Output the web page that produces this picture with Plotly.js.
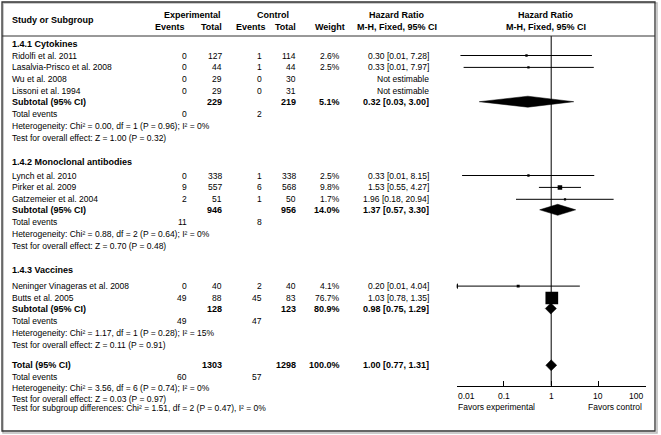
<!DOCTYPE html>
<html>
<head>
<meta charset="utf-8">
<script src="https://cdn.plot.ly/plotly-3.0.1.min.js"></script>
<style>html,body{margin:0;padding:0;background:#fff}#chart{width:661px;height:435px}</style>
</head>
<body>
<div id="chart"></div>
<script>
// ---------------- DATA ----------------
const groupNames = ["1.4.1 Cytokines", "1.4.2 Monoclonal antibodies", "1.4.3 Vaccines"];
const studies = ["Ridolfi et al. 2011", "Lasalvia-Prisco et al. 2008", "Wu et al. 2008", "Lissoni et al. 1994",
  "Lynch et al. 2010", "Pirker et al. 2009", "Gatzemeier et al. 2004",
  "Neninger Vinageras et al. 2008", "Butts et al. 2005"];
const studyGroup = [0, 0, 0, 0, 1, 1, 1, 2, 2];
const expEvents = [0, 0, 0, 0, 0, 9, 2, 0, 49];
const expTotal = [127, 44, 29, 29, 338, 557, 51, 40, 88];
const ctlEvents = [1, 1, 0, 0, 1, 6, 1, 2, 45];
const ctlTotal = [114, 44, 30, 31, 338, 568, 50, 40, 83];
const weight = [2.6, 2.5, null, null, 2.5, 9.8, 1.7, 4.1, 76.7];
const hr = [0.30, 0.33, null, null, 0.33, 1.53, 1.96, 0.20, 1.03];
const hrLow = [0.012, 0.014, null, null, 0.013, 0.55, 0.18, 0.0095, 0.78];
const hrHigh = [7.28, 7.97, null, null, 8.15, 4.27, 20.94, 4.04, 1.35];

const subExpTotal = [229, 946, 128];
const subCtlTotal = [219, 956, 123];
const subWeight = [5.1, 14.0, 80.9];
const subHr = [0.32, 1.37, 0.98];
const subLow = [0.03, 0.57, 0.75];
const subHigh = [3.00, 3.30, 1.29];
const subExpEvents = [0, 11, 49];
const subCtlEvents = [2, 8, 47];
const subChi2 = [0.00, 0.88, 1.17];
const subDf = [1, 2, 1];
const subHetP = [0.96, 0.64, 0.28];
const subI2 = [0, 0, 15];
const subZ = [1.00, 0.70, 0.11];
const subZP = [0.32, 0.48, 0.91];

const totExpTotal = 1303, totCtlTotal = 1298, totWeight = 100.0;
const totHr = 1.00, totLow = 0.77, totHigh = 1.31;
const totExpEvents = 60, totCtlEvents = 57;
const totChi2 = 3.56, totDf = 6, totHetP = 0.74, totI2 = 0;
const totZ = 0.03, totZP = 0.97;
const sgChi2 = 1.51, sgDf = 2, sgP = 0.47, sgI2 = 0;

const axisTickVals = [0.01, 0.1, 1, 10, 100];
const axisTickText = ["0.01", "0.1", "1", "10", "100"];
const favorsLeft = "Favors experimental", favorsRight = "Favors control";

// ---------------- LAYOUT (pixel geometry) ----------------
const W = 661, H = 435;
const FONT = "Arial, 'Liberation Sans', sans-serif";
const FS = 8.5, FSB = 9.0;
const plotX0 = 456.7, plotX1 = 645.7;     // 0.01 .. 100
const axisY = 385.5;
const headerLineY = 36;
const col = {label: 11, expEv: 188, expTot: 223, ctlEv: 263, ctlTot: 297, weight: 341, hrText: 430};

// build row list
const rows = [];
groupNames.forEach((g, gi) => {
  rows.push({kind: "group", gi});
  studies.forEach((s, i) => { if (studyGroup[i] === gi) rows.push({kind: "study", i}); });
  rows.push({kind: "subtotal", gi});
  rows.push({kind: "te", gi});
  rows.push({kind: "het", gi});
  rows.push({kind: "test", gi});
});
rows.push({kind: "total"}); rows.push({kind: "tte"}); rows.push({kind: "thet"}); rows.push({kind: "ttest"}); rows.push({kind: "tsub"});

const gapBefore = {group: 24, study: 11.9, subtotal: 10.5, te: 12.3, het: 12, test: 12, total: 20.5, tte: 11.5, thet: 11, ttest: 11, tsub: 9.5};
const firstStudyGap = [12, 13.5, 16];
let y = 43.5;
rows.forEach((r, k) => {
  if (k > 0) {
    let g = gapBefore[r.kind];
    if (r.kind === "study" && rows[k - 1].kind === "group") g = firstStudyGap[rows[k - 1].gi];
    y += g;
  }
  r.y = y;
});

const f2 = v => v.toFixed(2);
const ciText = (h, l, u) => f2(h) + " [" + f2(l) + ", " + f2(u) + "]";

const ann = [];
function txt(x, yy, t, anchor, bold) {
  ann.push({xref: "x", yref: "y", x: x, y: yy, text: bold ? "<b>" + t + "</b>" : t, showarrow: false,
    xanchor: anchor, yanchor: "middle", font: {family: FONT, size: bold ? FSB : FS, color: "#000"}, borderpad: 0});
}

// headers
txt(col.label, 20, "Study or Subgroup", "left", true);
txt(192, 14.5, "Experimental", "center", true);
txt(273, 14.5, "Control", "center", true);
txt(186, 26.5, "Events", "right", true);
txt(223, 26.5, "Total", "right", true);
txt(267, 26.5, "Events", "right", true);
txt(297, 26.5, "Total", "right", true);
txt(346, 26.5, "Weight", "right", true);
txt(397, 14.5, "Hazard Ratio", "center", true);
txt(397, 26.5, "M-H, Fixed, 95% CI", "center", true);
txt(546, 14.5, "Hazard Ratio", "center", true);
txt(546, 26.5, "M-H, Fixed, 95% CI", "center", true);

const traces = [];
const blk = "#000";

rows.forEach(r => {
  const yy = r.y;
  if (r.kind === "group") {
    txt(col.label, yy, groupNames[r.gi], "left", true);
  } else if (r.kind === "study") {
    const i = r.i;
    txt(col.label, yy, studies[i], "left", false);
    txt(col.expEv, yy, String(expEvents[i]), "right", false);
    txt(col.expTot, yy, String(expTotal[i]), "right", false);
    txt(col.ctlEv, yy, String(ctlEvents[i]), "right", false);
    txt(col.ctlTot, yy, String(ctlTotal[i]), "right", false);
    if (hr[i] === null) {
      txt(col.hrText, yy, "Not estimable", "right", false);
    } else {
      txt(col.weight, yy, weight[i].toFixed(1) + "%", "right", false);
      txt(col.hrText, yy, ciText(hr[i], hrLow[i], hrHigh[i]), "right", false);
      const lo = Math.max(hrLow[i], 0.01), hi = Math.min(hrHigh[i], 100);
      traces.push({type: "scatter", mode: "lines", xaxis: "x2", yaxis: "y", x: [lo, hi], y: [yy, yy],
        line: {color: blk, width: 1}, hoverinfo: "skip"});
      if (hrLow[i] < 0.01) {
        traces.push({type: "scatter", mode: "markers", xaxis: "x2", yaxis: "y", x: [0.01], y: [yy],
          marker: {symbol: "triangle-left", size: 5, color: blk}, hoverinfo: "skip"});
      }
      traces.push({type: "scatter", mode: "markers", xaxis: "x2", yaxis: "y", x: [hr[i]], y: [yy],
        marker: {symbol: "square", size: Math.max(2.2, 1.45 * Math.sqrt(weight[i])), color: blk, line: {width: 0}}, hoverinfo: "skip"});
    }
  } else if (r.kind === "subtotal") {
    const g = r.gi;
    txt(col.label, yy, "Subtotal (95% CI)", "left", true);
    txt(col.expTot, yy, String(subExpTotal[g]), "right", true);
    txt(col.ctlTot, yy, String(subCtlTotal[g]), "right", true);
    txt(col.weight, yy, subWeight[g].toFixed(1) + "%", "right", true);
    txt(col.hrText, yy, ciText(subHr[g], subLow[g], subHigh[g]), "right", true);
    traces.push({type: "scatter", mode: "lines", fill: "toself", xaxis: "x2", yaxis: "y",
      x: [subLow[g], subHr[g], subHigh[g], subHr[g], subLow[g]], y: [yy, yy - 5.5, yy, yy + 5.5, yy],
      line: {color: blk, width: 0.5}, fillcolor: blk, hoverinfo: "skip"});
  } else if (r.kind === "te") {
    txt(col.label, yy, "Total events", "left", false);
    txt(col.expEv, yy, String(subExpEvents[r.gi]), "right", false);
    txt(col.ctlEv, yy, String(subCtlEvents[r.gi]), "right", false);
  } else if (r.kind === "het") {
    const g = r.gi;
    txt(col.label, yy, "Heterogeneity: Chi² = " + f2(subChi2[g]) + ", df = " + subDf[g] + " (P = " + f2(subHetP[g]) + "); I² = " + subI2[g] + "%", "left", false);
  } else if (r.kind === "test") {
    const g = r.gi;
    txt(col.label, yy, "Test for overall effect: Z = " + f2(subZ[g]) + " (P = " + f2(subZP[g]) + ")", "left", false);
  } else if (r.kind === "total") {
    txt(col.label, yy, "Total (95% CI)", "left", true);
    txt(col.expTot, yy, String(totExpTotal), "right", true);
    txt(col.ctlTot, yy, String(totCtlTotal), "right", true);
    txt(col.weight, yy, totWeight.toFixed(1) + "%", "right", true);
    txt(col.hrText, yy, ciText(totHr, totLow, totHigh), "right", true);
    traces.push({type: "scatter", mode: "lines", fill: "toself", xaxis: "x2", yaxis: "y",
      x: [totLow, totHr, totHigh, totHr, totLow], y: [yy, yy - 5.5, yy, yy + 5.5, yy],
      line: {color: blk, width: 0.5}, fillcolor: blk, hoverinfo: "skip"});
  } else if (r.kind === "tte") {
    txt(col.label, yy, "Total events", "left", false);
    txt(col.expEv, yy, String(totExpEvents), "right", false);
    txt(col.ctlEv, yy, String(totCtlEvents), "right", false);
  } else if (r.kind === "thet") {
    txt(col.label, yy, "Heterogeneity: Chi² = " + f2(totChi2) + ", df = " + totDf + " (P = " + f2(totHetP) + "); I² = " + totI2 + "%", "left", false);
  } else if (r.kind === "ttest") {
    txt(col.label, yy, "Test for overall effect: Z = " + f2(totZ) + " (P = " + f2(totZP) + ")", "left", false);
  } else if (r.kind === "tsub") {
    txt(col.label, yy, "Test for subgroup differences: Chi² = " + f2(sgChi2) + ", df = " + sgDf + " (P = " + f2(sgP) + "), I² = " + sgI2 + "%", "left", false);
  }
});

// line of no effect
traces.unshift({type: "scatter", mode: "lines", xaxis: "x2", yaxis: "y", x: [1, 1], y: [headerLineY, axisY],
  line: {color: blk, width: 1}, hoverinfo: "skip"});

// axis tick labels + favors
const pxOf = v => plotX0 + (Math.log10(v) + 2) / 4 * (plotX1 - plotX0);
axisTickVals.forEach((v, k) => {
  const a = k === 0 ? "left" : (k === axisTickVals.length - 1 ? "right" : "center");
  const dx = k === axisTickVals.length - 1 ? -2 : 0;
  txt(pxOf(v) + dx, 396, axisTickText[k], a, false);
});
txt(plotX0, 407, favorsLeft, "left", false);
txt(plotX1 - 3, 407, favorsRight, "right", false);

const layout = {
  width: W, height: H, margin: {l: 0, r: 0, t: 0, b: 0},
  paper_bgcolor: "#fff", plot_bgcolor: "rgba(0,0,0,0)", showlegend: false,
  xaxis: {range: [0, W], domain: [0, 1], visible: false, fixedrange: true},
  yaxis: {range: [H, 0], domain: [0, 1], visible: false, fixedrange: true},
  xaxis2: {type: "log", range: [-2, 2], domain: [plotX0 / W, plotX1 / W], anchor: "free", position: (H - axisY) / H,
    showline: true, linecolor: blk, linewidth: 1, ticks: "inside", ticklen: 5, tickwidth: 1, tickcolor: blk,
    tickvals: axisTickVals, showticklabels: false, showgrid: false, zeroline: false, fixedrange: true},
  annotations: ann,
  shapes: [
    {type: "rect", xref: "paper", yref: "paper", x0: 3 / W, x1: 657 / W, y0: 1 - 433 / H, y1: 1 - 3 / H, line: {color: "#bbb", width: 1.5}},
    {type: "rect", xref: "paper", yref: "paper", x0: 2 / W, x1: 655 / W, y0: 1 - 431 / H, y1: 1 - 2 / H, line: {color: "#333", width: 1.3}},
    {type: "line", xref: "paper", yref: "paper", x0: 2 / W, x1: 655 / W, y0: 1 - headerLineY / H, y1: 1 - headerLineY / H, line: {color: "#333", width: 1}}
  ]
};

Plotly.newPlot("chart", traces, layout, {staticPlot: true, displayModeBar: false});
</script>
</body>
</html>
